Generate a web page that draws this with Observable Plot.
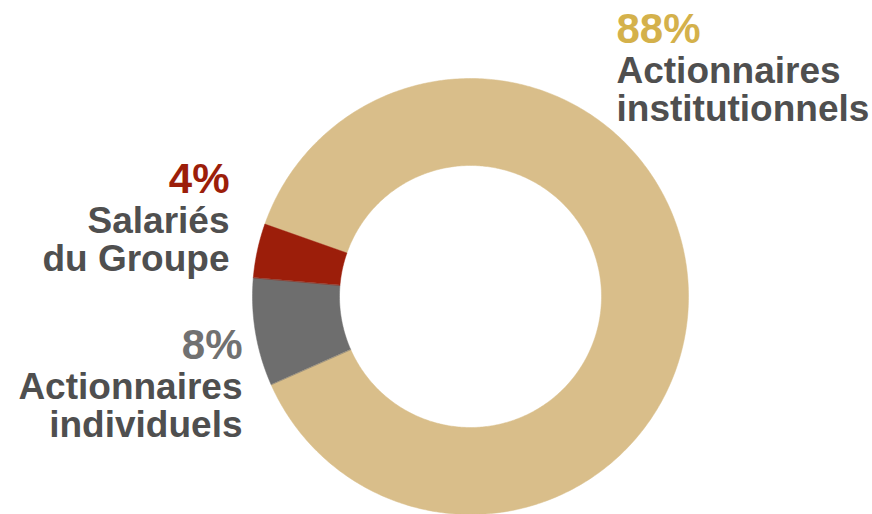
<!DOCTYPE html>
<html>
<head>
<meta charset="utf-8">
<script src="https://cdn.jsdelivr.net/npm/d3@7"></script>
<script src="https://cdn.jsdelivr.net/npm/@observablehq/plot@0.6"></script>
<style>
  html, body { margin: 0; padding: 0; background: #fff; }
  #chart { width: 872px; height: 514px; overflow: hidden; }
</style>
</head>
<body>
<div id="chart"></div>
<script>
// ---- data ----
const categories = ["Actionnaires institutionnels", "Actionnaires individuels", "Salariés du Groupe"];
const shares = [88, 8, 4];
const pctLabels = ["88%", "8%", "4%"];
const nameLines = [["Actionnaires", "institutionnels"], ["Actionnaires", "individuels"], ["Salariés", "du Groupe"]];
const sliceColors = ["#D9BE8A", "#6E6E6E", "#9C1E0A"];
const pctColors = ["#D4B14B", "#717171", "#9C1E0A"];

// ---- layout ----
const W = 872, H = 514;
const R = 218, r0 = 131;          // outer / inner radius in px
const cx = 470, cy = 296;         // donut centre in px
const startDeg = -70.6;           // first slice start, clockwise from 12 o'clock
const innerRatio = r0 / R;

const pie = d3.pie().sort(null).startAngle(startDeg * Math.PI / 180)
  .endAngle(startDeg * Math.PI / 180 + 2 * Math.PI);
const arcs = pie(shares);

// polygon vertices of each ring sector in unit-radius coordinates
const pts = [];
arcs.forEach((a, i) => {
  const n = Math.max(8, Math.ceil((a.endAngle - a.startAngle) * 80));
  for (let k = 0; k <= n; k++) {
    const t = a.startAngle + (a.endAngle - a.startAngle) * k / n;
    pts.push({cat: categories[i], x: Math.sin(t), y: Math.cos(t)});
  }
  for (let k = n; k >= 0; k--) {
    const t = a.startAngle + (a.endAngle - a.startAngle) * k / n;
    pts.push({cat: categories[i], x: innerRatio * Math.sin(t), y: innerRatio * Math.cos(t)});
  }
});

// text blocks beside the ring (layout, in px converted to unit coordinates)
const lineH = 39 / R;
const blockAnchors = [
  {x: (616 - cx) / R, y: (cy - 42) / R, anchor: "start"},
  {x: (242 - cx) / R, y: (cy - 358) / R, anchor: "end"},
  {x: (229 - cx) / R, y: (cy - 192) / R, anchor: "end"}
];
const pctRows = [], nameRows = [];
categories.forEach((c, i) => {
  const b = blockAnchors[i];
  pctRows.push({text: pctLabels[i], x: b.x, y: b.y, color: pctColors[i], anchor: b.anchor});
  nameLines[i].forEach((t, j) => {
    nameRows.push({text: t, x: b.x, y: b.y - (j + 1) * lineH - (j === 0 ? 1 / R : 0), anchor: b.anchor});
  });
});

const font = "Liberation Sans, Arial, sans-serif";
const chart = Plot.plot({
  width: W,
  height: H,
  margin: 0,
  x: {domain: [-cx / R, (W - cx) / R], axis: null},
  y: {domain: [-(H - cy) / R, cy / R], axis: null},
  color: {domain: categories, range: sliceColors},
  style: {background: "transparent"},
  marks: [
    Plot.line(pts, {x: "x", y: "y", z: "cat", fill: "cat", stroke: "cat", strokeWidth: 0.5, curve: "linear-closed"}),
    ...["start", "end"].map(anc => Plot.text(pctRows.filter(d => d.anchor === anc), {
      x: "x", y: "y", text: "text", fill: d => d.color, textAnchor: anc,
      lineAnchor: "bottom", fontSize: 42, fontWeight: "bold", fontFamily: font
    })),
    ...["start", "end"].map(anc => Plot.text(nameRows.filter(d => d.anchor === anc), {
      x: "x", y: "y", text: "text", fill: "#4F4F4F", textAnchor: anc,
      lineAnchor: "bottom", fontSize: 37, fontWeight: "bold", fontFamily: font
    }))
  ]
});
document.getElementById("chart").appendChild(chart);
</script>
</body>
</html>
